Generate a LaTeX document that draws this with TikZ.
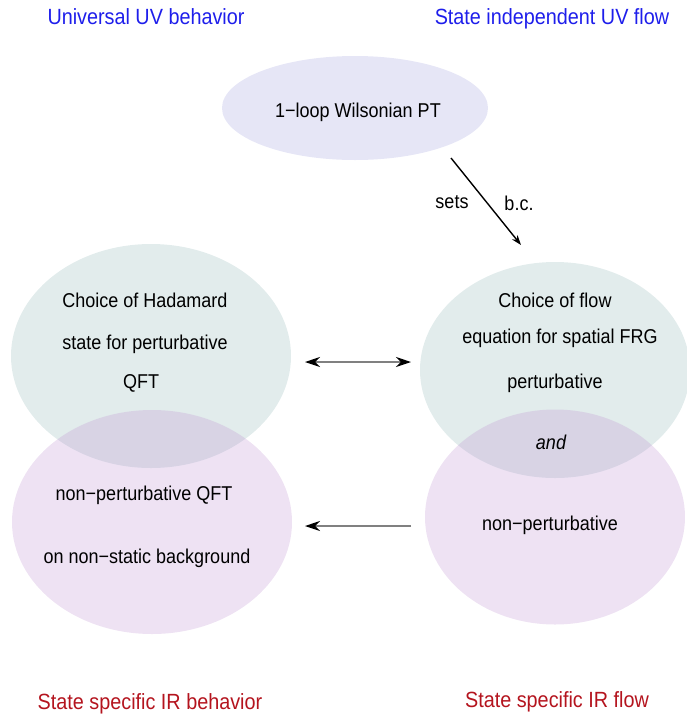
\documentclass[tikz,border=0pt]{standalone}
\usepackage{fontspec}
\setmainfont{Liberation Sans}[FakeStretch=0.9]
\usetikzlibrary{shapes.geometric,arrows.meta}
\definecolor{uvblue}{RGB}{30,30,235}
\definecolor{irred}{RGB}{180,20,30}
\definecolor{topfill}{RGB}{230,230,246}
\definecolor{uvfill}{RGB}{226,236,236}
\definecolor{irfill}{RGB}{187,139,207}
\tikzset{bigtip/.tip={Stealth[color=black,length=15pt,width=10pt]}}

\begin{document}
\begin{tikzpicture}[x=1pt,y=-1pt]
\tikzstyle{every node}=[inner sep=0pt]
\tikzstyle{blob}=[ellipse,inner sep=0pt]
\tikzstyle{uvblob}=[blob,fill=uvfill]
\tikzstyle{irblob}=[blob,fill=irfill,fill opacity=0.25]
\tikzstyle{txt}=[anchor=base,font=\fontsize{20}{24}\selectfont]
\tikzstyle{title}=[anchor=base,font=\fontsize{22}{26}\selectfont]
\tikzstyle{link}=[draw=black!50,line width=1.3pt]

\useasboundingbox (0,0) rectangle (687,716);

% the five regions
\node[blob,fill=topfill,minimum width=266pt,minimum height=104pt] (wpt) at (355,108) {};
\node[uvblob,minimum width=280pt,minimum height=224pt] (hadUV) at (151,356) {};
\node[uvblob,minimum width=270pt,minimum height=216pt] (frgUV) at (555,370) {};
\node[irblob,minimum width=280pt,minimum height=224pt] (hadIR) at (152,522) {};
\node[irblob,minimum width=260pt,minimum height=215pt] (frgIR) at (555,517) {};

% headings
\node[title,text=uvblue] (uvL) at (146,24) {Universal UV behavior};
\node[title,text=uvblue] (uvR) at (552,24) {State independent UV flow};
\node[title,text=irred] (irL) at (150,709) {State specific IR behavior};
\node[title,text=irred] (irR) at (557,707) {State specific IR flow};

% texts in the regions
\node[txt] (wptT) at (358,117) {1−loop Wilsonian PT};
\node[txt] (hadA) at (145,307) {Choice of Hadamard};
\node[txt] (hadB) at (145,349) {state for perturbative};
\node[txt] (hadC) at (141,388) {QFT};
\node[txt] (hadD) at (144,500) {non−perturbative QFT};
\node[txt] (hadE) at (147,563) {on non−static background};
\node[txt] (frgA) at (555,307) {Choice of flow};
\node[txt] (frgB) at (560,343) {equation for spatial FRG};
\node[txt] (frgC) at (555,388) {perturbative};
\node[txt,font=\fontsize{20}{24}\selectfont\itshape] (frgD) at (551,449) {and};
\node[txt] (frgE) at (550,530) {non−perturbative};

% connectors
\coordinate (bcS) at (451,158);
\coordinate (bcE) at (521,245);
\draw[line width=1.4pt,-{Stealth[length=10pt,width=7pt]}] (bcS) -- (bcE);
\node[txt] (sets) at (452,208) {sets};
\node[txt] (bc) at (519,210) {b.c.};

\coordinate (midL) at (305,362);
\coordinate (midR) at (411,362);
\draw[link,bigtip-bigtip] (midL) -- (midR);
\coordinate (lowL) at (305,526);
\coordinate (lowR) at (411,526);
\draw[link,-bigtip] (lowR) -- (lowL);
\end{tikzpicture}
\end{document}
